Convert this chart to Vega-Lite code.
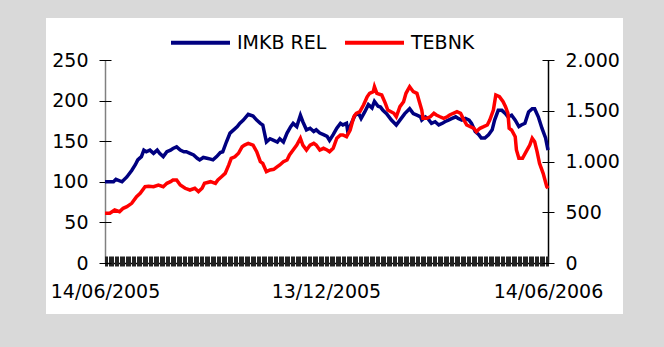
{
  "$schema": "https://vega.github.io/schema/vega-lite/v6.json",
  "width": 577,
  "height": 296,
  "autosize": {"type": "none"},
  "padding": {"left": 46, "top": 18, "right": 41, "bottom": 33},
  "background": "#d9d9d9",
  "config": {
    "view": {"fill": "white", "stroke": null},
    "font": "DejaVu Sans",
    "axis": {"labelFont": "DejaVu Sans", "labelFontSize": 19, "labelColor": "black", "title": null, "tickColor": "black"}
  },
  "data": {
    "values": [
      {"s":"IMKB REL","d":"2005-06-14","v":100},{"s":"IMKB REL","d":"2005-06-21","v":100},{"s":"IMKB REL","d":"2005-06-23","v":103},{"s":"IMKB REL","d":"2005-06-28","v":100},
      {"s":"IMKB REL","d":"2005-07-02","v":106},{"s":"IMKB REL","d":"2005-07-06","v":114},{"s":"IMKB REL","d":"2005-07-09","v":121},{"s":"IMKB REL","d":"2005-07-11","v":127},
      {"s":"IMKB REL","d":"2005-07-14","v":131},{"s":"IMKB REL","d":"2005-07-16","v":139},{"s":"IMKB REL","d":"2005-07-18","v":137},{"s":"IMKB REL","d":"2005-07-21","v":139},
      {"s":"IMKB REL","d":"2005-07-24","v":135},{"s":"IMKB REL","d":"2005-07-27","v":139},{"s":"IMKB REL","d":"2005-07-29","v":135},{"s":"IMKB REL","d":"2005-08-01","v":131},
      {"s":"IMKB REL","d":"2005-08-04","v":137},{"s":"IMKB REL","d":"2005-08-07","v":139},{"s":"IMKB REL","d":"2005-08-09","v":141},{"s":"IMKB REL","d":"2005-08-12","v":143},
      {"s":"IMKB REL","d":"2005-08-15","v":139},{"s":"IMKB REL","d":"2005-08-18","v":137},{"s":"IMKB REL","d":"2005-08-20","v":137},{"s":"IMKB REL","d":"2005-08-23","v":135},
      {"s":"IMKB REL","d":"2005-08-26","v":133},{"s":"IMKB REL","d":"2005-08-29","v":129},{"s":"IMKB REL","d":"2005-08-31","v":127},{"s":"IMKB REL","d":"2005-09-03","v":130},
      {"s":"IMKB REL","d":"2005-09-06","v":129},{"s":"IMKB REL","d":"2005-09-09","v":128},{"s":"IMKB REL","d":"2005-09-11","v":127},{"s":"IMKB REL","d":"2005-09-14","v":131},
      {"s":"IMKB REL","d":"2005-09-17","v":136},{"s":"IMKB REL","d":"2005-09-19","v":137},{"s":"IMKB REL","d":"2005-09-22","v":149},{"s":"IMKB REL","d":"2005-09-25","v":160},
      {"s":"IMKB REL","d":"2005-09-28","v":164},{"s":"IMKB REL","d":"2005-10-01","v":168},{"s":"IMKB REL","d":"2005-10-03","v":172},{"s":"IMKB REL","d":"2005-10-06","v":176},
      {"s":"IMKB REL","d":"2005-10-10","v":183},{"s":"IMKB REL","d":"2005-10-14","v":181},{"s":"IMKB REL","d":"2005-10-17","v":176},{"s":"IMKB REL","d":"2005-10-20","v":172},
      {"s":"IMKB REL","d":"2005-10-22","v":170},{"s":"IMKB REL","d":"2005-10-24","v":156},{"s":"IMKB REL","d":"2005-10-25","v":149},{"s":"IMKB REL","d":"2005-10-28","v":153},
      {"s":"IMKB REL","d":"2005-10-31","v":151},{"s":"IMKB REL","d":"2005-11-03","v":149},{"s":"IMKB REL","d":"2005-11-05","v":153},{"s":"IMKB REL","d":"2005-11-08","v":149},
      {"s":"IMKB REL","d":"2005-11-11","v":160},{"s":"IMKB REL","d":"2005-11-14","v":168},{"s":"IMKB REL","d":"2005-11-16","v":172},{"s":"IMKB REL","d":"2005-11-19","v":168},
      {"s":"IMKB REL","d":"2005-11-22","v":182},{"s":"IMKB REL","d":"2005-11-24","v":174},{"s":"IMKB REL","d":"2005-11-27","v":164},{"s":"IMKB REL","d":"2005-11-30","v":166},
      {"s":"IMKB REL","d":"2005-12-03","v":162},{"s":"IMKB REL","d":"2005-12-05","v":164},{"s":"IMKB REL","d":"2005-12-08","v":160},{"s":"IMKB REL","d":"2005-12-11","v":158},
      {"s":"IMKB REL","d":"2005-12-14","v":156},{"s":"IMKB REL","d":"2005-12-16","v":151},{"s":"IMKB REL","d":"2005-12-19","v":158},{"s":"IMKB REL","d":"2005-12-22","v":166},
      {"s":"IMKB REL","d":"2005-12-25","v":172},{"s":"IMKB REL","d":"2005-12-27","v":170},{"s":"IMKB REL","d":"2005-12-30","v":172},{"s":"IMKB REL","d":"2005-12-31","v":162},
      {"s":"IMKB REL","d":"2006-01-03","v":172},{"s":"IMKB REL","d":"2006-01-06","v":182},{"s":"IMKB REL","d":"2006-01-09","v":184},{"s":"IMKB REL","d":"2006-01-11","v":178},
      {"s":"IMKB REL","d":"2006-01-14","v":186},{"s":"IMKB REL","d":"2006-01-17","v":195},{"s":"IMKB REL","d":"2006-01-20","v":191},{"s":"IMKB REL","d":"2006-01-22","v":199},
      {"s":"IMKB REL","d":"2006-01-25","v":193},{"s":"IMKB REL","d":"2006-01-27","v":192},{"s":"IMKB REL","d":"2006-01-29","v":188},{"s":"IMKB REL","d":"2006-02-01","v":184},
      {"s":"IMKB REL","d":"2006-02-05","v":176},{"s":"IMKB REL","d":"2006-02-09","v":170},{"s":"IMKB REL","d":"2006-02-12","v":176},{"s":"IMKB REL","d":"2006-02-16","v":184},
      {"s":"IMKB REL","d":"2006-02-20","v":190},{"s":"IMKB REL","d":"2006-02-23","v":184},{"s":"IMKB REL","d":"2006-02-26","v":182},{"s":"IMKB REL","d":"2006-03-01","v":180},
      {"s":"IMKB REL","d":"2006-03-02","v":176},{"s":"IMKB REL","d":"2006-03-05","v":180},{"s":"IMKB REL","d":"2006-03-07","v":178},{"s":"IMKB REL","d":"2006-03-10","v":172},
      {"s":"IMKB REL","d":"2006-03-13","v":174},{"s":"IMKB REL","d":"2006-03-16","v":170},{"s":"IMKB REL","d":"2006-03-19","v":172},{"s":"IMKB REL","d":"2006-03-21","v":174},
      {"s":"IMKB REL","d":"2006-03-24","v":176},{"s":"IMKB REL","d":"2006-03-27","v":178},{"s":"IMKB REL","d":"2006-03-30","v":180},{"s":"IMKB REL","d":"2006-04-01","v":178},
      {"s":"IMKB REL","d":"2006-04-04","v":176},{"s":"IMKB REL","d":"2006-04-07","v":178},{"s":"IMKB REL","d":"2006-04-10","v":176},{"s":"IMKB REL","d":"2006-04-12","v":172},
      {"s":"IMKB REL","d":"2006-04-15","v":162},{"s":"IMKB REL","d":"2006-04-18","v":158},{"s":"IMKB REL","d":"2006-04-20","v":154},{"s":"IMKB REL","d":"2006-04-23","v":154},
      {"s":"IMKB REL","d":"2006-04-26","v":158},{"s":"IMKB REL","d":"2006-04-29","v":164},{"s":"IMKB REL","d":"2006-05-01","v":176},{"s":"IMKB REL","d":"2006-05-04","v":188},
      {"s":"IMKB REL","d":"2006-05-07","v":188},{"s":"IMKB REL","d":"2006-05-10","v":184},{"s":"IMKB REL","d":"2006-05-12","v":180},{"s":"IMKB REL","d":"2006-05-15","v":182},
      {"s":"IMKB REL","d":"2006-05-18","v":176},{"s":"IMKB REL","d":"2006-05-21","v":168},{"s":"IMKB REL","d":"2006-05-23","v":170},{"s":"IMKB REL","d":"2006-05-26","v":172},
      {"s":"IMKB REL","d":"2006-05-29","v":186},{"s":"IMKB REL","d":"2006-06-01","v":190},{"s":"IMKB REL","d":"2006-06-03","v":190},{"s":"IMKB REL","d":"2006-06-06","v":180},
      {"s":"IMKB REL","d":"2006-06-09","v":166},{"s":"IMKB REL","d":"2006-06-12","v":154},{"s":"IMKB REL","d":"2006-06-14","v":139},

      {"s":"TEBNK","d":"2005-06-14","v":490},{"s":"TEBNK","d":"2005-06-18","v":490},{"s":"TEBNK","d":"2005-06-22","v":522},{"s":"TEBNK","d":"2005-06-26","v":506},
      {"s":"TEBNK","d":"2005-06-29","v":539},{"s":"TEBNK","d":"2005-07-02","v":555},{"s":"TEBNK","d":"2005-07-06","v":588},{"s":"TEBNK","d":"2005-07-10","v":653},
      {"s":"TEBNK","d":"2005-07-13","v":686},{"s":"TEBNK","d":"2005-07-17","v":752},{"s":"TEBNK","d":"2005-07-20","v":755},{"s":"TEBNK","d":"2005-07-24","v":752},
      {"s":"TEBNK","d":"2005-07-28","v":768},{"s":"TEBNK","d":"2005-08-01","v":752},{"s":"TEBNK","d":"2005-08-04","v":785},{"s":"TEBNK","d":"2005-08-07","v":801},
      {"s":"TEBNK","d":"2005-08-09","v":818},{"s":"TEBNK","d":"2005-08-12","v":818},{"s":"TEBNK","d":"2005-08-15","v":768},{"s":"TEBNK","d":"2005-08-19","v":736},
      {"s":"TEBNK","d":"2005-08-23","v":719},{"s":"TEBNK","d":"2005-08-27","v":736},{"s":"TEBNK","d":"2005-08-30","v":703},{"s":"TEBNK","d":"2005-09-02","v":736},
      {"s":"TEBNK","d":"2005-09-04","v":785},{"s":"TEBNK","d":"2005-09-09","v":801},{"s":"TEBNK","d":"2005-09-13","v":785},{"s":"TEBNK","d":"2005-09-15","v":818},
      {"s":"TEBNK","d":"2005-09-18","v":850},{"s":"TEBNK","d":"2005-09-21","v":883},{"s":"TEBNK","d":"2005-09-24","v":966},{"s":"TEBNK","d":"2005-09-26","v":1031},
      {"s":"TEBNK","d":"2005-09-29","v":1047},{"s":"TEBNK","d":"2005-10-02","v":1081},{"s":"TEBNK","d":"2005-10-05","v":1146},{"s":"TEBNK","d":"2005-10-07","v":1162},
      {"s":"TEBNK","d":"2005-10-10","v":1179},{"s":"TEBNK","d":"2005-10-14","v":1162},{"s":"TEBNK","d":"2005-10-17","v":1097},{"s":"TEBNK","d":"2005-10-20","v":998},
      {"s":"TEBNK","d":"2005-10-22","v":981},{"s":"TEBNK","d":"2005-10-25","v":900},{"s":"TEBNK","d":"2005-10-28","v":916},{"s":"TEBNK","d":"2005-10-31","v":923},
      {"s":"TEBNK","d":"2005-11-03","v":949},{"s":"TEBNK","d":"2005-11-05","v":966},{"s":"TEBNK","d":"2005-11-08","v":998},{"s":"TEBNK","d":"2005-11-11","v":1015},
      {"s":"TEBNK","d":"2005-11-13","v":1064},{"s":"TEBNK","d":"2005-11-16","v":1113},{"s":"TEBNK","d":"2005-11-19","v":1162},{"s":"TEBNK","d":"2005-11-22","v":1229},
      {"s":"TEBNK","d":"2005-11-24","v":1162},{"s":"TEBNK","d":"2005-11-27","v":1113},{"s":"TEBNK","d":"2005-11-30","v":1162},{"s":"TEBNK","d":"2005-12-03","v":1179},
      {"s":"TEBNK","d":"2005-12-05","v":1162},{"s":"TEBNK","d":"2005-12-08","v":1113},{"s":"TEBNK","d":"2005-12-11","v":1130},{"s":"TEBNK","d":"2005-12-14","v":1113},
      {"s":"TEBNK","d":"2005-12-16","v":1097},{"s":"TEBNK","d":"2005-12-19","v":1130},{"s":"TEBNK","d":"2005-12-22","v":1229},{"s":"TEBNK","d":"2005-12-25","v":1261},
      {"s":"TEBNK","d":"2005-12-27","v":1261},{"s":"TEBNK","d":"2005-12-30","v":1245},{"s":"TEBNK","d":"2006-01-02","v":1310},{"s":"TEBNK","d":"2006-01-05","v":1441},
      {"s":"TEBNK","d":"2006-01-07","v":1475},{"s":"TEBNK","d":"2006-01-10","v":1491},{"s":"TEBNK","d":"2006-01-13","v":1557},{"s":"TEBNK","d":"2006-01-16","v":1638},
      {"s":"TEBNK","d":"2006-01-18","v":1672},{"s":"TEBNK","d":"2006-01-21","v":1688},{"s":"TEBNK","d":"2006-01-22","v":1737},{"s":"TEBNK","d":"2006-01-24","v":1672},
      {"s":"TEBNK","d":"2006-01-28","v":1655},{"s":"TEBNK","d":"2006-01-31","v":1573},{"s":"TEBNK","d":"2006-02-02","v":1507},{"s":"TEBNK","d":"2006-02-07","v":1475},
      {"s":"TEBNK","d":"2006-02-09","v":1441},{"s":"TEBNK","d":"2006-02-12","v":1540},{"s":"TEBNK","d":"2006-02-15","v":1589},{"s":"TEBNK","d":"2006-02-17","v":1672},
      {"s":"TEBNK","d":"2006-02-20","v":1737},{"s":"TEBNK","d":"2006-02-23","v":1688},{"s":"TEBNK","d":"2006-02-26","v":1672},{"s":"TEBNK","d":"2006-02-28","v":1589},
      {"s":"TEBNK","d":"2006-03-02","v":1507},{"s":"TEBNK","d":"2006-03-03","v":1425},{"s":"TEBNK","d":"2006-03-06","v":1425},{"s":"TEBNK","d":"2006-03-09","v":1441},
      {"s":"TEBNK","d":"2006-03-12","v":1475},{"s":"TEBNK","d":"2006-03-14","v":1458},{"s":"TEBNK","d":"2006-03-17","v":1441},{"s":"TEBNK","d":"2006-03-20","v":1425},
      {"s":"TEBNK","d":"2006-03-23","v":1441},{"s":"TEBNK","d":"2006-03-25","v":1458},{"s":"TEBNK","d":"2006-03-28","v":1475},{"s":"TEBNK","d":"2006-03-31","v":1491},
      {"s":"TEBNK","d":"2006-04-03","v":1475},{"s":"TEBNK","d":"2006-04-05","v":1425},{"s":"TEBNK","d":"2006-04-08","v":1360},{"s":"TEBNK","d":"2006-04-11","v":1343},
      {"s":"TEBNK","d":"2006-04-14","v":1327},{"s":"TEBNK","d":"2006-04-16","v":1294},{"s":"TEBNK","d":"2006-04-19","v":1327},{"s":"TEBNK","d":"2006-04-22","v":1343},
      {"s":"TEBNK","d":"2006-04-25","v":1360},{"s":"TEBNK","d":"2006-04-27","v":1409},{"s":"TEBNK","d":"2006-04-30","v":1507},{"s":"TEBNK","d":"2006-05-02","v":1655},
      {"s":"TEBNK","d":"2006-05-05","v":1639},{"s":"TEBNK","d":"2006-05-08","v":1589},{"s":"TEBNK","d":"2006-05-10","v":1540},{"s":"TEBNK","d":"2006-05-12","v":1475},
      {"s":"TEBNK","d":"2006-05-13","v":1327},{"s":"TEBNK","d":"2006-05-15","v":1310},{"s":"TEBNK","d":"2006-05-18","v":1244},{"s":"TEBNK","d":"2006-05-19","v":1113},
      {"s":"TEBNK","d":"2006-05-21","v":1031},{"s":"TEBNK","d":"2006-05-24","v":1031},{"s":"TEBNK","d":"2006-05-27","v":1097},{"s":"TEBNK","d":"2006-05-30","v":1162},
      {"s":"TEBNK","d":"2006-06-01","v":1229},{"s":"TEBNK","d":"2006-06-03","v":1195},{"s":"TEBNK","d":"2006-06-05","v":1097},{"s":"TEBNK","d":"2006-06-07","v":982},
      {"s":"TEBNK","d":"2006-06-10","v":884},{"s":"TEBNK","d":"2006-06-13","v":752},{"s":"TEBNK","d":"2006-06-14","v":736}
    ]
  },
  "encoding": {
    "color": {
      "field": "s", "type": "nominal",
      "scale": {"domain": ["IMKB REL", "TEBNK"], "range": ["#000080", "#ff0000"]},
      "legend": {
        "title": null, "orient": "none", "legendX": 123, "legendY": -7, "direction": "horizontal",
        "symbolType": "stroke", "symbolSize": 3481, "symbolStrokeWidth": 4,
        "labelFont": "DejaVu Sans", "labelFontSize": 19, "labelColor": "black", "labelOffset": 5, "columnPadding": 10, "padding": 0
      }
    }
  },
  "layer": [
    {
      "transform": [{"filter": {"field": "s", "equal": "IMKB REL"}}],
      "mark": {"type": "line", "strokeWidth": 3.5},
      "encoding": {
        "x": {
          "field": "d", "type": "temporal",
          "scale": {"type": "utc", "domain": [{"year": 2005, "month": 6, "date": 14, "utc": true}, {"year": 2006, "month": 6, "date": 14, "utc": true}], "range": [59, 502]},
          "axis": {
            "orient": "bottom", "offset": -58, "tickCount": {"interval": "day", "step": 1},
            "labelExpr": "indexof(['14/06/2005','13/12/2005','14/06/2006'], utcFormat(datum.value, '%d/%m/%Y')) >= 0 ? utcFormat(datum.value, '%d/%m/%Y') : ''",
            "labelOverlap": false, "labelBound": false, "labelFlush": false, "labelPadding": 16,
            "tickSize": 10, "tickWidth": 1, "tickColor": "#222", "domain": false, "grid": false
          }
        },
        "y": {
          "field": "v", "type": "quantitative",
          "scale": {"domain": [0, 250], "range": [245, 42], "nice": false},
          "axis": {"orient": "left", "offset": -65, "values": [0, 50, 100, 150, 200, 250], "tickSize": 12, "labelPadding": 11, "domain": false,
            "grid": true, "gridWidth": 1.5, "gridColor": "black",
            "gridOpacity": {"condition": {"test": "datum.value === 0", "value": 1}, "value": 0}}
        }
      }
    },
    {
      "transform": [{"filter": {"field": "s", "equal": "TEBNK"}}],
      "mark": {"type": "line", "strokeWidth": 3.5},
      "encoding": {
        "x": {
          "field": "d", "type": "temporal",
          "axis": {
            "orient": "top", "labels": false, "ticks": false, "domain": false, "grid": true, "gridWidth": 1.5,
            "values": [{"year": 2005, "month": 6, "date": 14, "utc": true}, {"year": 2006, "month": 6, "date": 14, "utc": true}],
            "gridColor": {"condition": {"test": "utcFormat(datum.value, '%Y') === '2005'", "value": "#808080"}, "value": "black"}
          }
        },
        "y": {
          "field": "v", "type": "quantitative",
          "scale": {"domain": [0, 2000], "range": [245, 42], "nice": false},
          "axis": {"orient": "right", "offset": -81, "values": [0, 500, 1000, 1500, 2000], "tickSize": 12, "labelPadding": 11, "domain": false, "grid": false,
            "labelExpr": "replace(format(datum.value, ','), ',', '.')"}
        }
      }
    }
  ],
  "resolve": {"scale": {"y": "independent"}, "axis": {"x": "independent", "y": "independent"}}
}
